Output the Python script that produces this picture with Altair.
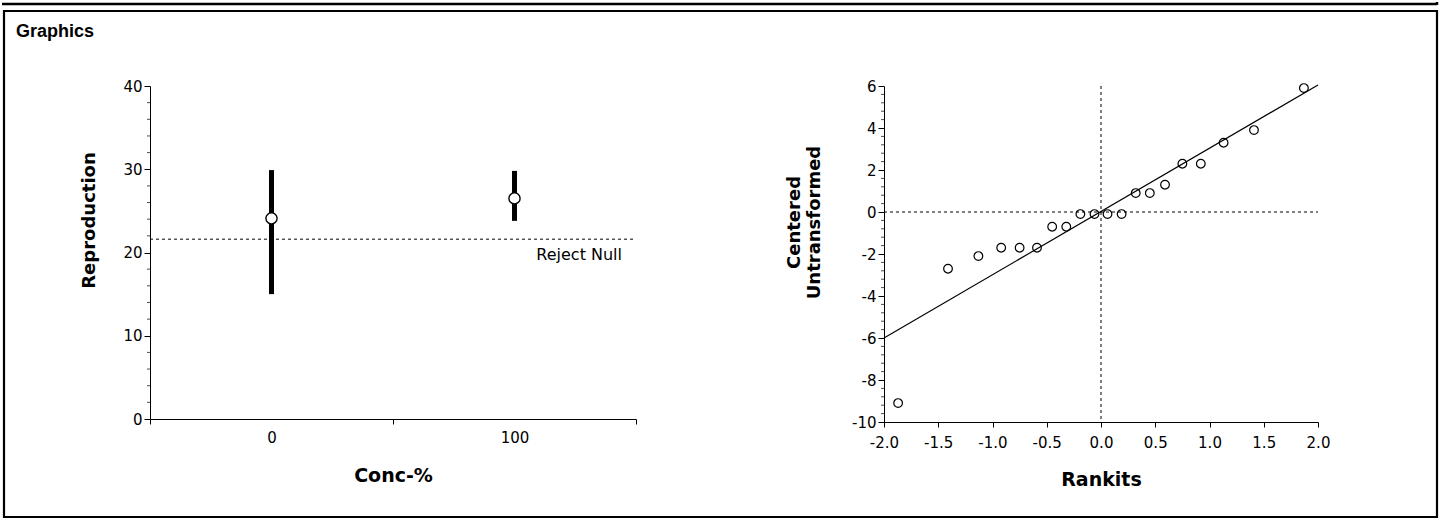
import altair as alt
import pandas as pd

# Reproduction by concentration: mean with interval bounds
conc_labels = ["0", "100"]
repro_mean = [24.1, 26.5]
repro_low = [15.0, 23.8]
repro_high = [29.9, 29.8]
reject_null = [21.6]

# Normal probability plot of centered, untransformed residuals
rankits = [-1.87, -1.41, -1.13, -0.92, -0.75, -0.59, -0.45, -0.32, -0.19, -0.06,
           0.06, 0.19, 0.32, 0.45, 0.59, 0.75, 0.92, 1.13, 1.41, 1.87]
centered = [-9.1, -2.7, -2.1, -1.7, -1.7, -1.7, -0.7, -0.7, -0.1, -0.1,
            -0.1, -0.1, 0.9, 0.9, 1.3, 2.3, 2.3, 3.3, 3.9, 5.9]
fit_x = [-2.0, 2.0]
fit_y = [-6.0, 6.05]

# Axis tick positions
left_major = [0, 10, 20, 30, 40]
left_minor = [v for v in range(0, 41, 2) if v % 10]
right_major = list(range(-10, 7, 2))
right_minor = [round(-10 + 0.4 * i, 1) for i in range(41) if i % 5]
rankit_ticks = [-2, -1.5, -1, -0.5, 0, 0.5, 1, 1.5, 2]

FONT = "DejaVu Sans"
LW, LH = 486, 333
RW, RH = 434, 336
GAP = 248
RIGHT_EDGE = LW + GAP + RW + 119
MINUS_FIX = "replace(datum.label, '\u2212', '-')"


def y_left(field):
    return alt.Y(
        field,
        title="Reproduction",
        scale=alt.Scale(domain=[0, 40], nice=False),
        axis=alt.Axis(values=left_major, tickSize=6, labelOverlap=False,
                      labelPadding=2, titlePadding=24, titleY=134),
    )


def y_right(field):
    return alt.Y(
        field,
        title=["Centered", "Untransformed"],
        scale=alt.Scale(domain=[-10, 6], nice=False),
        axis=alt.Axis(values=right_major, labelExpr=MINUS_FIX, tickSize=6,
                      labelOverlap=False, labelFlush=False, labelPadding=2,
                      titlePadding=28, titleY=136),
    )


def x_right(field):
    return alt.X(
        field,
        title="Rankits",
        scale=alt.Scale(domain=[-2, 2], nice=False),
        axis=alt.Axis(values=rankit_ticks, format=".1f", labelExpr=MINUS_FIX,
                      tickSize=5, labelPadding=8, titlePadding=20, labelFlush=False,
                      labelOverlap=False, titleFontSize=19),
    )


x_left = alt.X(
    "conc:N",
    sort=conc_labels,
    title="Conc-%",
    bandPosition=0.5,
    scale=alt.Scale(type="band", paddingInner=0, paddingOuter=0),
    axis=alt.Axis(labelAngle=0, tickBand="extent", tickSize=5, labelPadding=6,
                  titlePadding=21, titleFontSize=19),
)

left_df = pd.DataFrame({"conc": conc_labels, "mean": repro_mean,
                        "low": repro_low, "high": repro_high})
null_df = pd.DataFrame({"y": reject_null, "label": ["Reject Null"]})
frame_df = pd.DataFrame({"title": ["Graphics"]})
left_minor_df = pd.DataFrame({"v": left_minor})

bars = alt.Chart(left_df).mark_rule(color="black", strokeWidth=5).encode(
    x=x_left, y=y_left("low:Q"), y2="high:Q"
)
means = alt.Chart(left_df).mark_point(
    shape="circle", filled=True, fill="white", stroke="black", strokeWidth=1.4,
    size=125, opacity=1
).encode(x=x_left, y=y_left("mean:Q"))

null_line = alt.Chart(null_df).mark_rule(
    color="black", strokeWidth=1, strokeDash=[3, 3]
).encode(x=alt.value(0), x2=alt.value(LW), y=y_left("y:Q"))
null_text = alt.Chart(null_df).mark_text(
    font=FONT, fontSize=16, align="right", baseline="middle", dy=16, color="black"
).encode(x=alt.value(LW - 14), y=y_left("y:Q"), text="label:N")

left_minor_ticks = alt.Chart(left_minor_df).mark_tick(
    color="black", orient="horizontal", size=3, thickness=1
).encode(y=y_left("v:Q"), x=alt.value(-1.5))

# Surrounding panel frame and heading
frame = alt.Chart(frame_df).mark_rect(
    filled=False, stroke="black", strokeWidth=2.2
).encode(x=alt.value(-146), x2=alt.value(RIGHT_EDGE),
         y=alt.value(-75), y2=alt.value(431))
top_rule = alt.Chart(frame_df).mark_rule(color="black", strokeWidth=2.5).encode(
    x=alt.value(-148), x2=alt.value(RIGHT_EDGE), y=alt.value(-82)
)
top_tick = alt.Chart(frame_df).mark_rule(color="black", strokeWidth=2.5).encode(
    x=alt.value(RIGHT_EDGE), y=alt.value(-84), y2=alt.value(-81)
)
heading = alt.Chart(frame_df).mark_text(
    font="Liberation Sans", fontWeight="bold", fontSize=18, align="left",
    baseline="alphabetic", color="black"
).encode(x=alt.value(-134), y=alt.value(-49), text="title:N")

left = alt.layer(
    frame, top_rule, top_tick, heading, null_line, null_text, left_minor_ticks,
    bars, means
).properties(width=LW, height=LH)

# Right panel
qq_df = pd.DataFrame({"rankit": rankits, "value": centered})
fit_df = pd.DataFrame({"rankit": fit_x, "value": fit_y})
ref_df = pd.DataFrame({"zero": [0.0]})
right_minor_df = pd.DataFrame({"v": right_minor})

h_zero = alt.Chart(ref_df).mark_rule(color="black", strokeWidth=1, strokeDash=[3, 3]).encode(
    y=y_right("zero:Q"), x=alt.value(0), x2=alt.value(RW)
)
v_zero = alt.Chart(ref_df).mark_rule(color="black", strokeWidth=1, strokeDash=[3, 3]).encode(
    x=x_right("zero:Q"), y=alt.value(0), y2=alt.value(RH)
)
right_minor_ticks = alt.Chart(right_minor_df).mark_tick(
    color="black", orient="horizontal", size=3, thickness=1
).encode(y=y_right("v:Q"), x=alt.value(-1.5))
fit = alt.Chart(fit_df).mark_line(color="black", strokeWidth=1.2).encode(
    x=x_right("rankit:Q"), y=y_right("value:Q")
)
pts = alt.Chart(qq_df).mark_point(
    shape="circle", filled=False, stroke="black", strokeWidth=1.2, size=75, opacity=1
).encode(x=x_right("rankit:Q"), y=y_right("value:Q"))

right = alt.layer(h_zero, v_zero, right_minor_ticks, fit, pts).properties(
    width=RW, height=RH
)

chart = alt.hconcat(left, right, spacing=GAP, bounds="flush").properties(
    padding={"left": 0, "top": 0, "right": 0, "bottom": 0},
    background="white",
).configure_view(stroke=None).configure_axis(
    grid=False,
    domainColor="black",
    domainWidth=1,
    tickColor="black",
    labelColor="black",
    labelFont=FONT,
    labelFontSize=15,
    labelOverlap=False,
    titleFont=FONT,
    titleFontSize=18,
    titleFontWeight="bold",
    titleColor="black",
)

chart.save("out.html", embed_options={"renderer": "svg", "actions": False})
